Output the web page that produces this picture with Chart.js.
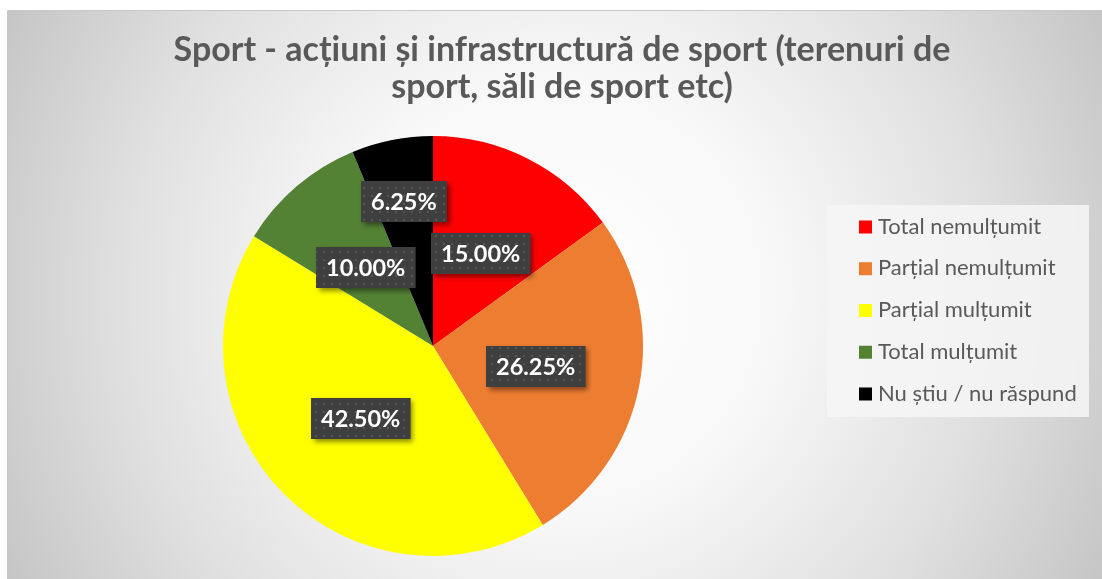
<!DOCTYPE html>
<html>
<head>
<meta charset="utf-8">
<script src="https://cdn.jsdelivr.net/npm/chart.js@4.4.0/dist/chart.umd.min.js"></script>
<style>
    html, body { margin: 0; padding: 0; background: #fff; }
    #wrap { width: 1102px; height: 579px; }
</style>
</head>
<body>
<div id="wrap"><canvas id="sport-chart" width="1102" height="579"></canvas></div>
<script>
// Date sondaj - sport
const titleLines = [
    'Sport - acțiuni și infrastructură de sport (terenuri de',
    'sport, săli de sport etc)'
];
const categories = ['Total nemulțumit', 'Parțial nemulțumit', 'Parțial mulțumit', 'Total mulțumit', 'Nu știu / nu răspund'];
const percentages = [15.00, 26.25, 42.50, 10.00, 6.25];

const sliceColors = ['#ff0000', '#ed7d31', '#ffff00', '#548235', '#000000'];
const textGray = '#595959';
const fontFamily = 'Lato, "Open Sans", sans-serif';

// Fundal cu gradient radial (ca în Excel)
const sheetBackground = {
    id: 'sheetBackground',
    beforeDraw(chart) {
        const { ctx, width, height } = chart;
        ctx.save();
        ctx.fillStyle = '#ffffff';
        ctx.fillRect(0, 0, width, height);
        const x0 = 7, y0 = 10;
        const cx = 555, cy = 295;
        const grad = ctx.createRadialGradient(cx, cy, 0, cx, cy, 620);
        grad.addColorStop(0, '#ffffff');
        grad.addColorStop(0.35, '#f8f8f8');
        grad.addColorStop(0.7, '#e0e0e0');
        grad.addColorStop(1, '#c5c5c5');
        ctx.fillStyle = grad;
        ctx.fillRect(x0, y0, width - x0, height - y0);
        ctx.strokeStyle = '#c8c8c8';
        ctx.lineWidth = 1;
        ctx.strokeRect(x0 + 0.5, y0 + 0.5, width - x0, height - y0);
        ctx.restore();
    }
};

// Titlu + legendă desenate pe canvas
const titleAndLegend = {
    id: 'titleAndLegend',
    afterDraw(chart, args, opts) {
        const ctx = chart.ctx;
        ctx.save();

        ctx.fillStyle = textGray;
        ctx.font = 'bold 34px ' + fontFamily;
        ctx.textAlign = 'center';
        ctx.textBaseline = 'alphabetic';
        titleLines.forEach((line, i) => {
            ctx.fillText(line, opts.titleX, opts.titleBaseline + i * opts.titleLineHeight);
        });

        const lg = opts.legend;
        ctx.fillStyle = 'rgba(246, 246, 246, 0.85)';
        ctx.fillRect(lg.x, lg.y, lg.w, lg.h);

        ctx.font = '22px ' + fontFamily;
        ctx.textAlign = 'left';
        categories.forEach((name, i) => {
            const y = lg.firstY + i * lg.step;
            ctx.fillStyle = sliceColors[i];
            ctx.fillRect(lg.boxX, y - 6.5, 13, 13);
            ctx.fillStyle = textGray;
            ctx.fillText(name, lg.boxX + 19, y + 6.5);
        });
        ctx.restore();
    }
};

// Etichete cu procente (casetă închisă, cu model de puncte și umbră)
function makeDotPattern(ctx) {
    const tile = document.createElement('canvas');
    tile.width = 8;
    tile.height = 8;
    const t = tile.getContext('2d');
    t.fillStyle = '#3f3f3f';
    t.fillRect(0, 0, 8, 8);
    t.fillStyle = '#555555';
    t.fillRect(3, 3, 2, 2);
    return ctx.createPattern(tile, 'repeat');
}

const valueBoxes = {
    id: 'valueBoxes',
    afterDatasetsDraw(chart, args, opts) {
        const ctx = chart.ctx;
        const meta = chart.getDatasetMeta(0);
        const pattern = makeDotPattern(ctx);
        ctx.save();
        ctx.font = 'bold 23.5px ' + fontFamily;
        ctx.textAlign = 'center';
        ctx.textBaseline = 'middle';
        meta.data.forEach((arc, i) => {
            const p = arc.getProps(['x', 'y', 'startAngle', 'endAngle', 'outerRadius'], true);
            const mid = (p.startAngle + p.endAngle) / 2;
            const r = p.outerRadius * opts.radiusFactor[i];
            const cx = p.x + Math.cos(mid) * r;
            const cy = p.y + Math.sin(mid) * r;
            const label = percentages[i].toFixed(2) + '%';
            const w = ctx.measureText(label).width + 20;
            const h = 41;
            const bx = Math.round(cx - w / 2), by = Math.round(cy - h / 2);

            ctx.shadowColor = 'rgba(0, 0, 0, 0.45)';
            ctx.shadowBlur = 5;
            ctx.shadowOffsetX = 3;
            ctx.shadowOffsetY = 3;
            ctx.fillStyle = '#3f3f3f';
            ctx.fillRect(bx, by, w, h);
            ctx.shadowColor = 'transparent';
            ctx.fillStyle = pattern;
            ctx.fillRect(bx, by, w, h);

            ctx.fillStyle = '#ffffff';
            ctx.fillText(label, bx + w / 2, by + h / 2 + 1);
        });
        ctx.restore();
    }
};

const ctx = document.getElementById('sport-chart').getContext('2d');
const sportChart = new Chart(ctx, {
    type: 'pie',
    data: {
        labels: categories,
        datasets: [{
            data: percentages,
            backgroundColor: sliceColors,
            borderWidth: 0,
            hoverOffset: 0,
            offset: 0
        }]
    },
    options: {
        responsive: false,
        devicePixelRatio: 1,
        animation: false,
        events: [],
        layout: {
            autoPadding: false,
            padding: { top: 136, bottom: 23, left: 0, right: 236 }
        },
        plugins: {
            legend: { display: false },
            title: { display: false },
            tooltip: { enabled: false },
            titleAndLegend: {
                titleX: 562,
                titleBaseline: 61,
                titleLineHeight: 37,
                legend: { x: 827, y: 205, w: 262, h: 212, boxX: 859, firstY: 227, step: 41.75 }
            },
            valueBoxes: {
                radiusFactor: [0.495, 0.5, 0.49, 0.49, 0.7]
            }
        }
    },
    plugins: [sheetBackground, titleAndLegend, valueBoxes]
});
</script>
</body>
</html>
